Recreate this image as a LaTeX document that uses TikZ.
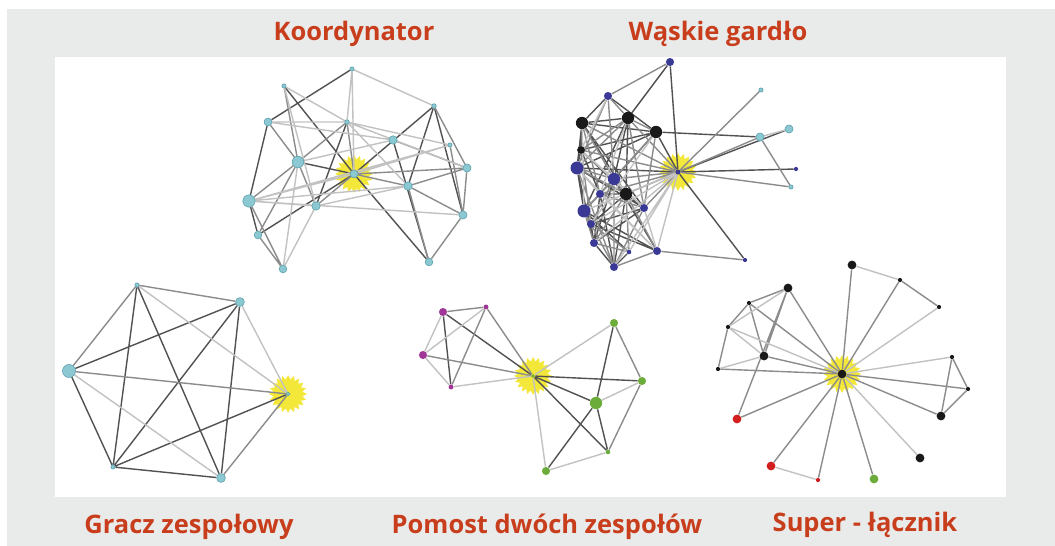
\documentclass[tikz,border=0pt]{standalone}
\usepackage{fontspec}
\setmainfont{Open Sans}
\usetikzlibrary{shapes.geometric}
\definecolor{bggrey}{RGB}{233,235,234}
\definecolor{ttlred}{RGB}{200,62,28}
\definecolor{cyfill}{RGB}{140,200,210}
\definecolor{cyline}{RGB}{85,155,170}
\definecolor{bluefill}{RGB}{58,58,150}
\definecolor{magfill}{RGB}{160,55,150}
\definecolor{grnfill}{RGB}{108,172,58}
\definecolor{redfill}{RGB}{210,30,30}
\definecolor{dotblack}{RGB}{25,25,25}
\definecolor{sunyellow}{RGB}{243,232,58}
\pgfdeclarelayer{back}
\pgfdeclarelayer{links}
\pgfsetlayers{back,links,main}

\begin{document}
\begin{tikzpicture}[x=0.02cm,y=-0.02cm,
  title/.style={text=ttlred,font=\fontsize{14.5}{17}\selectfont\bfseries,anchor=base,inner sep=0pt},
  sunburst/.style={star,star points=20,star point ratio=1.3,fill=sunyellow,inner sep=0pt,minimum size=0.76cm},
  cyn/.style={circle,inner sep=0pt,fill=cyfill,draw=cyline,line width=0.3pt,minimum size=#1},
  blu/.style={circle,inner sep=0pt,fill=bluefill,minimum size=#1},
  drk/.style={circle,inner sep=0pt,fill=dotblack,minimum size=#1},
  mag/.style={circle,inner sep=0pt,fill=magfill,minimum size=#1},
  grn/.style={circle,inner sep=0pt,fill=grnfill,minimum size=#1},
  rd/.style={circle,inner sep=0pt,fill=redfill,minimum size=#1},
  dk/.style={draw=black!68,line width=0.8pt},
  md/.style={draw=black!45,line width=0.8pt},
  lt/.style={draw=black!24,line width=0.8pt}]
\useasboundingbox (0,0) rectangle (1055,546);
\begin{pgfonlayer}{back}
\fill[bggrey] (7,9) rectangle (1055,546);
\fill[white] (55,57) rectangle (1006,497);
\node (s1) at (354,174) [sunburst]{};
\node (s2) at (678,172) [sunburst]{};
\node (s3) at (288,394) [sunburst]{};
\node (s4) at (533,376) [sunburst]{};
\node (s5) at (842,374) [sunburst]{};
\end{pgfonlayer}

\node (tkoord) at (354,41) [title]{Koordynator};
\node (twaskie) at (718,41) [title]{Wąskie gardło};
\node (tgracz) at (189,534) [title]{Gracz zespołowy};
\node (tpomost) at (547,534) [title]{Pomost dwóch zespołów};
\node (tsuper) at (865,532) [title]{Super - łącznik};

\node (k0) at (354,174) [cyn=4.5pt]{};
\node (k1) at (352,69) [cyn=2.4pt]{};
\node (k2) at (284,86) [cyn=2.4pt]{};
\node (k3) at (434,106) [cyn=2.6pt]{};
\node (k4) at (268,122) [cyn=4.5pt]{};
\node (k5) at (347,122) [cyn=2.6pt]{};
\node (k6) at (393,140) [cyn=4.8pt]{};
\node (k7) at (450,145) [cyn=2.4pt]{};
\node (k8) at (298,162) [cyn=6.6pt]{};
\node (k9) at (467,168) [cyn=4.6pt]{};
\node (k10) at (408,186) [cyn=4.8pt]{};
\node (k11) at (249,201) [cyn=7pt]{};
\node (k12) at (316,206) [cyn=4.8pt]{};
\node (k13) at (463,215) [cyn=4.6pt]{};
\node (k14) at (258,235) [cyn=4.4pt]{};
\node (k15) at (429,262) [cyn=4.4pt]{};
\node (k16) at (283,269) [cyn=4.4pt]{};

\begin{pgfonlayer}{links}
\draw[dk] (k1) -- (k4) (k2) -- (k0) (k4) -- (k11) (k5) -- (k12) (k3) -- (k0) (k0) -- (k14)
  (k3) -- (k10) (k3) -- (k13) (k8) -- (k0) (k0) -- (k15) (k6) -- (k15) (k11) -- (k14);
\draw[md] (k4) -- (k8) (k5) -- (k8) (k3) -- (k9) (k6) -- (k9) (k7) -- (k13) (k8) -- (k11)
  (k8) -- (k12) (k8) -- (k14) (k0) -- (k9) (k0) -- (k10) (k9) -- (k13) (k9) -- (k10)
  (k10) -- (k15) (k10) -- (k13) (k13) -- (k15) (k14) -- (k16) (k11) -- (k16) (k5) -- (k0)
  (k2) -- (k8) (k0) -- (k12);
\draw[lt] (k1) -- (k3) (k1) -- (k5) (k1) -- (k0) (k2) -- (k12) (k2) -- (k5) (k4) -- (k5)
  (k5) -- (k10) (k5) -- (k9) (k5) -- (k7) (k6) -- (k8) (k7) -- (k0) (k7) -- (k11)
  (k8) -- (k16) (k10) -- (k11) (k11) -- (k12) (k12) -- (k16) (k11) -- (k13) (k11) -- (k0)
  (k6) -- (k4) (k12) -- (k10);
\end{pgfonlayer}

\node (w0) at (678,172) [blu=3pt]{};
\node (w1) at (670,62) [blu=4.6pt]{};
\node (w2) at (608,96) [blu=4.6pt]{};
\node (w3) at (761,90) [cyn=2.4pt]{};
\node (w4) at (582,123) [drk=7pt]{};
\node (w5) at (628,118) [drk=7pt]{};
\node (w6) at (656,132) [drk=7pt]{};
\node (w7) at (789,129) [cyn=4.6pt]{};
\node (w8) at (760,137) [cyn=4.6pt]{};
\node (w9) at (581,150) [drk=4.4pt]{};
\node (w10) at (577,168) [blu=7.4pt]{};
\node (w11) at (796,169) [blu=2.4pt]{};
\node (w12) at (614,179) [blu=7pt]{};
\node (w13) at (791,187) [cyn=2.4pt]{};
\node (w14) at (600,194) [blu=4.6pt]{};
\node (w15) at (626,194) [drk=7pt]{};
\node (w16) at (644,208) [blu=4.6pt]{};
\node (w17) at (584,211) [blu=7.4pt]{};
\node (w18) at (591,224) [blu=4.6pt]{};
\node (w19) at (594,243) [blu=4.6pt]{};
\node (w20) at (629,252) [blu=2.6pt]{};
\node (w21) at (657,251) [blu=4.6pt]{};
\node (w22) at (745,260) [blu=2.4pt]{};
\node (w23) at (614,267) [blu=4.6pt]{};

\begin{pgfonlayer}{links}
\draw[dk] (w1) -- (w0) (w1) -- (w5) (w2) -- (w4) (w4) -- (w5) (w4) -- (w6) (w4) -- (w9)
  (w4) -- (w15) (w5) -- (w12) (w5) -- (w15) (w6) -- (w8) (w6) -- (w10) (w6) -- (w0)
  (w9) -- (w10) (w9) -- (w6) (w10) -- (w17) (w10) -- (w0) (w12) -- (w15) (w12) -- (w17)
  (w14) -- (w15) (w14) -- (w19) (w15) -- (w16) (w15) -- (w18) (w15) -- (w23) (w16) -- (w19)
  (w17) -- (w18) (w17) -- (w21) (w18) -- (w19) (w18) -- (w21) (w19) -- (w23) (w20) -- (w23)
  (w0) -- (w7) (w0) -- (w11) (w0) -- (w22) (w4) -- (w10) (w10) -- (w19) (w4) -- (w16)
  (w5) -- (w17) (w6) -- (w12) (w9) -- (w15) (w10) -- (w16) (w12) -- (w19) (w14) -- (w23)
  (w17) -- (w20) (w16) -- (w18) (w2) -- (w6) (w12) -- (w21) (w9) -- (w14);
\draw[md] (w1) -- (w2) (w2) -- (w5) (w4) -- (w12) (w4) -- (w0) (w5) -- (w6) (w5) -- (w9)
  (w5) -- (w10) (w6) -- (w14) (w6) -- (w16) (w9) -- (w0) (w10) -- (w12) (w10) -- (w15)
  (w12) -- (w0) (w12) -- (w18) (w14) -- (w17) (w15) -- (w0) (w15) -- (w21) (w16) -- (w0)
  (w16) -- (w23) (w18) -- (w20) (w19) -- (w20) (w21) -- (w23) (w21) -- (w22) (w0) -- (w3)
  (w0) -- (w8) (w0) -- (w13) (w8) -- (w13) (w14) -- (w0) (w17) -- (w23) (w2) -- (w12)
  (w4) -- (w14) (w5) -- (w16) (w6) -- (w17) (w9) -- (w18) (w10) -- (w23) (w14) -- (w16)
  (w15) -- (w19) (w15) -- (w20) (w17) -- (w19) (w2) -- (w10) (w5) -- (w0) (w12) -- (w23);
\draw[lt] (w21) -- (w0) (w20) -- (w0) (w23) -- (w0) (w19) -- (w0) (w18) -- (w0) (w17) -- (w0)
  (w2) -- (w9) (w5) -- (w14) (w7) -- (w8) (w9) -- (w12) (w16) -- (w21)
  (w14) -- (w21) (w12) -- (w16) (w10) -- (w14) (w4) -- (w17) (w9) -- (w16) (w10) -- (w21)
  (w6) -- (w18);
\end{pgfonlayer}

\node (g0) at (288,394) [cyn=2.2pt]{};
\node (g1) at (137,285) [cyn=2.4pt]{};
\node (g2) at (240,302) [cyn=5pt]{};
\node (g3) at (69,371) [cyn=7.4pt]{};
\node (g4) at (113,467) [cyn=2.4pt]{};
\node (g5) at (221,478) [cyn=5pt]{};

\begin{pgfonlayer}{links}
\draw[dk] (g3) -- (g2) (g3) -- (g4) (g1) -- (g4) (g1) -- (g5) (g2) -- (g4) (g2) -- (g5)
  (g4) -- (g0) (g4) -- (g5);
\draw[md] (g3) -- (g0) (g1) -- (g3) (g1) -- (g2) (g5) -- (g0);
\draw[lt] (g1) -- (g0) (g2) -- (g0) (g3) -- (g5);
\end{pgfonlayer}

\node (p0) at (533,376) [grn=2.2pt]{};
\node (p1) at (443,312) [mag=4.6pt]{};
\node (p2) at (486,307) [mag=2.8pt]{};
\node (p3) at (423,355) [mag=4.6pt]{};
\node (p4) at (451,387) [mag=2.8pt]{};
\node (p5) at (614,323) [grn=4.6pt]{};
\node (p6) at (642,381) [grn=4.6pt]{};
\node (p7) at (596,403) [grn=7pt]{};
\node (p8) at (608,452) [grn=2.6pt]{};
\node (p9) at (546,471) [grn=4.6pt]{};

\begin{pgfonlayer}{links}
\draw[dk] (p1) -- (p4) (p1) -- (p0) (p0) -- (p6) (p0) -- (p7) (p0) -- (p8) (p7) -- (p9)
  (p7) -- (p8) (p5) -- (p7);
\draw[md] (p1) -- (p2) (p2) -- (p4) (p2) -- (p0) (p3) -- (p0) (p5) -- (p6) (p6) -- (p8);
\draw[lt] (p1) -- (p3) (p2) -- (p3) (p3) -- (p4) (p4) -- (p0) (p0) -- (p5) (p0) -- (p9)
  (p6) -- (p7) (p9) -- (p8);
\end{pgfonlayer}

\node (x0) at (842,374) [drk=5pt]{};
\node (x1) at (852,265) [drk=5pt]{};
\node (x2) at (900,280) [drk=2.4pt]{};
\node (x3) at (788,288) [drk=5pt]{};
\node (x4) at (749,303) [drk=2.4pt]{};
\node (x5) at (939,307) [drk=2.4pt]{};
\node (x6) at (728,327) [drk=2.4pt]{};
\node (x7) at (764,356) [drk=5pt]{};
\node (x8) at (952,357) [drk=2.4pt]{};
\node (x9) at (718,369) [drk=2.4pt]{};
\node (x10) at (968,389) [drk=2.4pt]{};
\node (x11) at (737,419) [rd=5pt]{};
\node (x12) at (941,416) [drk=5pt]{};
\node (x13) at (920,458) [drk=5pt]{};
\node (x14) at (771,466) [rd=5pt]{};
\node (x15) at (818,480) [rd=2.4pt]{};
\node (x16) at (874,479) [grn=5pt]{};

\begin{pgfonlayer}{links}
\draw[md] (x0) -- (x1) (x0) -- (x2) (x0) -- (x3) (x0) -- (x4) (x0) -- (x7) (x0) -- (x9)
  (x0) -- (x10) (x0) -- (x12) (x0) -- (x11) (x0) -- (x14) (x0) -- (x15) (x0) -- (x16)
  (x2) -- (x5) (x3) -- (x4) (x3) -- (x7) (x3) -- (x11) (x4) -- (x6) (x4) -- (x7)
  (x6) -- (x9) (x8) -- (x10) (x8) -- (x12) (x10) -- (x12);
\draw[lt] (x0) -- (x5) (x0) -- (x6) (x0) -- (x8) (x0) -- (x13) (x1) -- (x2) (x3) -- (x6)
  (x6) -- (x7) (x9) -- (x7) (x14) -- (x15);
\end{pgfonlayer}
\end{tikzpicture}
\end{document}
